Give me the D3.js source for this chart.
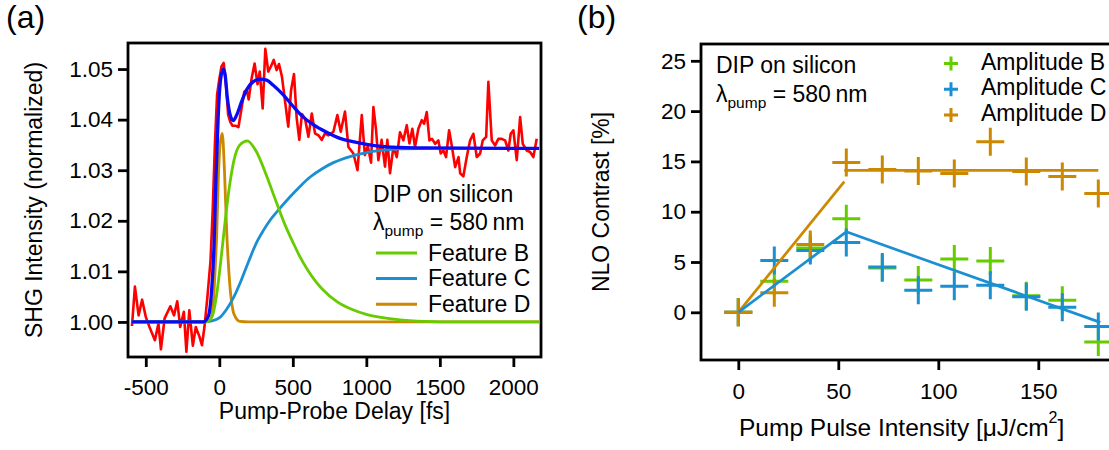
<!DOCTYPE html>
<html>
<head>
<meta charset="utf-8">
<script src="https://cdn.jsdelivr.net/npm/d3@7"></script>
<style>
body { margin: 0; background: #fff; }
svg text { font-family: "Liberation Sans", Arial, sans-serif; fill: #000; }
</style>
</head>
<body>
<div id="chart"></div>
<script>
// ---- panel (a): SHG transient, [delay fs, intensity]
const shgData = [
  [-594,0.9992],[-574,1.0070],[-549,1.0013],[-525,1.0044],[-500,1.0010],[-475,0.9990],[-438,0.9964],
  [-414,0.9997],[-397,0.9946],[-372,1.0007],[-333,1.0031],[-308,1.0013],[-286,1.0041],[-266,0.9990],
  [-241,1.0020],[-224,0.9941],[-204,1.0023],[-180,0.9953],[-160,0.9990],[-135,0.9971],[-118,0.9954],
  [-101,0.9990],[-81,1.0049],[-60,1.0120],[-45,1.0220],[-30,1.0350],[-15,1.0450],[0,1.0480],[15,1.0505],
  [30,1.0512],[45,1.0470],[60,1.0410],[75,1.0395],[90,1.0388],[110,1.0388],[130,1.0385],[150,1.0420],
  [170,1.0455],[186,1.0459],[200,1.0440],[220,1.0482],[240,1.0511],[260,1.0470],[275,1.0495],[295,1.0422],
  [313,1.0540],[333,1.0495],[351,1.0505],[370,1.0518],[390,1.0498],[406,1.0510],[426,1.0485],[449,1.0432],
  [469,1.0386],[488,1.0458],[508,1.0490],[526,1.0404],[544,1.0360],[562,1.0411],[583,1.0402],[606,1.0366],
  [629,1.0412],[651,1.0373],[674,1.0369],[697,1.0360],[719,1.0373],[742,1.0369],[776,1.0376],[803,1.0409],
  [826,1.0376],[855,1.0416],[878,1.0346],[912,1.0333],[940,1.0300],[969,1.0409],[990,1.0330],[1010,1.0348],
  [1032,1.0315],[1048,1.0425],[1066,1.0380],[1082,1.0320],[1104,1.0360],[1127,1.0307],[1143,1.0360],
  [1161,1.0294],[1184,1.0346],[1207,1.0326],[1229,1.0375],[1252,1.0359],[1275,1.0389],[1293,1.0353],
  [1313,1.0382],[1331,1.0346],[1354,1.0382],[1377,1.0399],[1393,1.0392],[1411,1.0415],[1429,1.0359],
  [1447,1.0362],[1468,1.0352],[1490,1.0359],[1506,1.0333],[1524,1.0339],[1542,1.0326],[1563,1.0379],
  [1581,1.0349],[1604,1.0306],[1627,1.0326],[1638,1.0294],[1660,1.0288],[1683,1.0326],[1706,1.0359],
  [1728,1.0372],[1751,1.0326],[1774,1.0333],[1792,1.0359],[1815,1.0366],[1830,1.0475],[1853,1.0359],
  [1876,1.0349],[1898,1.0362],[1921,1.0362],[1944,1.0359],[1966,1.0339],[1982,1.0372],[2000,1.0379],
  [2023,1.0320],[2046,1.0405],[2064,1.0352],[2091,1.0339],[2114,1.0336],[2136,1.0326],[2159,1.0362]
];
const fitTotal = [
  [-594,1.0],[-109,1.0],[-75,1.0011],[-52,1.0064],[-36,1.0150],[-23,1.0280],[-7,1.0410],[9,1.0480],
  [27,1.0500],[39,1.0490],[54,1.0445],[77,1.0406],[95,1.0398],[118,1.0409],[152,1.0436],[186,1.0459],
  [231,1.0475],[277,1.0480],[322,1.0478],[367,1.0468],[435,1.0449],[503,1.0426],[571,1.0405],[639,1.0390],
  [730,1.0375],[821,1.0363],[900,1.0357],[1003,1.0351],[1100,1.0347],[1230,1.0345],[1400,1.0344],[2175,1.0343]
];
const featB = [
  [-594,1.0],[-90,1.0],[-50,1.001],[-20,1.005],[10,1.012],[40,1.020],[70,1.027],[100,1.032],[140,1.035],
  [190,1.0358],[250,1.0338],[320,1.029],[390,1.0235],[450,1.019],[500,1.0158],[550,1.0128],[600,1.0103],
  [650,1.0082],[700,1.0065],[800,1.0040],[900,1.0025],[1000,1.0015],[1100,1.0009],[1200,1.0005],
  [1400,1.0001],[1600,1.0],[2175,1.0]
];
const featC = [
  [-594,1.0],[-110,1.0],[-50,1.0002],[0,1.0008],[50,1.0025],[100,1.005],[150,1.0083],[200,1.012],
  [250,1.0155],[300,1.0181],[350,1.0203],[413,1.0225],[480,1.0247],[549,1.0268],[620,1.0287],[700,1.0303],
  [776,1.0315],[889,1.0327],[1003,1.0335],[1100,1.0339],[1230,1.0342],[1500,1.0343],[2175,1.0343]
];
const featD = [
  [-594,1.0],[-100,1.0],[-63,1.0003],[-41,1.0037],[-29,1.010],[-18,1.017],[-7,1.028],[5,1.035],[20,1.0373],
  [35,1.030],[50,1.018],[65,1.010],[79,1.005],[95,1.002],[107,1.0011],[140,1.0001],[200,1.0],[2175,1.0]
];
const xTicksA = [-500, 0, 500, 1000, 1500, 2000];
const yTicksA = [1.00, 1.01, 1.02, 1.03, 1.04, 1.05];
const featLabels = ["Feature B", "Feature C", "Feature D"];

// ---- panel (b): contrast vs pump intensity
const pumpInt = [0, 18, 36, 54, 72, 90, 108, 126, 144, 162, 180];
const ampB = [0, 3.1, 6.4, 9.3, 4.4, 3.2, 5.3, 5.1, 1.65, 1.2, -2.95];
const ampC = [0, 5.15, 6.15, 6.95, 4.5, 2.2, 2.6, 2.7, 1.55, 0.5, -1.4];
const ampD = [0, 1.95, 6.75, 14.9, 14.2, 14.05, 13.8, 16.95, 14.0, 13.5, 11.8];
const fitLineC = [[0, 0], [54, 8.0], [181, -1.0]];
const fitLineD1 = [[0, 0], [53, 13.0]];
const fitLineD2 = [[53, 14.1], [180, 14.1]];
const xTicksB = [0, 50, 100, 150];
const yTicksB = [0, 5, 10, 15, 20, 25];
const ampLabels = ["Amplitude B", "Amplitude C", "Amplitude D"];

const colB = "#66cc00", colC = "#1a8fd1", colD = "#cc8800";
const colData = "#ff0000", colFit = "#0a0af5";

const svg = d3.select("#chart").append("svg")
  .attr("width", 1109).attr("height", 450);

function frameAxes(g, x, y, xt, yt, fmtY, padX) {
  g.append("g").attr("transform", `translate(0,${y.range()[0]})`)
    .call(d3.axisBottom(x).tickValues(xt).tickSize(10).tickPadding(padX).tickFormat(d => String(d)))
    .call(a => a.select(".domain").remove())
    .call(a => a.selectAll("line").attr("stroke-width", 2.8))
    .call(a => a.selectAll("text").attr("font-size", 22.5).attr("font-family", null));
  g.append("g").attr("transform", `translate(${x.range()[0]},0)`)
    .call(d3.axisLeft(y).tickValues(yt).tickSize(10).tickPadding(5).tickFormat(fmtY))
    .call(a => a.select(".domain").remove())
    .call(a => a.selectAll("line").attr("stroke-width", 2.8))
    .call(a => a.selectAll("text").attr("font-size", 22.5).attr("font-family", null));
  g.append("rect")
    .attr("x", x.range()[0]).attr("y", y.range()[1])
    .attr("width", x.range()[1] - x.range()[0]).attr("height", y.range()[0] - y.range()[1])
    .attr("fill", "none").attr("stroke", "#000").attr("stroke-width", 2.8);
}

function lambdaText(g, x, yb) {
  const t = g.append("text").attr("x", x).attr("y", yb).attr("font-size", 23);
  t.append("tspan").text("\u03bb");
  t.append("tspan").attr("font-size", 15.5).attr("dy", 6).text("pump");
  t.append("tspan").attr("dy", -6).text(" = 580\u2009nm");
}

// ================= panel (a)
const gA = svg.append("g");
const xA = d3.scaleLinear().domain([-621, 2188]).range([128, 541]);
const yA = d3.scaleLinear().domain([0.99307, 1.05515]).range([357, 43]);
frameAxes(gA, xA, yA, xTicksA, yTicksA, d3.format(".2f"), 12);

const smooth = d3.line().x(d => xA(d[0])).y(d => yA(d[1])).curve(d3.curveMonotoneX);
const jag = d3.line().x(d => xA(d[0])).y(d => yA(d[1]));

gA.append("path").attr("d", jag(shgData)).attr("fill", "none")
  .attr("stroke", colData).attr("stroke-width", 2.6).attr("stroke-linejoin", "round");
[[featD, colD], [featC, colC], [featB, colB]].forEach(([d, c]) => {
  gA.append("path").attr("d", smooth(d)).attr("fill", "none").attr("stroke", c).attr("stroke-width", 2.8);
});
gA.append("path").attr("d", smooth(fitTotal)).attr("fill", "none")
  .attr("stroke", colFit).attr("stroke-width", 3.3);

gA.append("text").attr("x", 373).attr("y", 202).attr("font-size", 23).text("DIP on silicon");
lambdaText(gA, 373, 230);
featLabels.forEach((t, i) => {
  const yy = 253 + i * 25.6;
  gA.append("line").attr("x1", 376).attr("x2", 417).attr("y1", yy).attr("y2", yy)
    .attr("stroke", [colB, colC, colD][i]).attr("stroke-width", 3);
  gA.append("text").attr("x", 428).attr("y", yy + 7.5).attr("font-size", 23).text(t);
});

gA.append("text").attr("transform", "translate(42,200) rotate(-90)")
  .attr("text-anchor", "middle").attr("font-size", 23).text("SHG Intensity (normalized)");
gA.append("text").attr("x", 334.5).attr("y", 419).attr("text-anchor", "middle")
  .attr("font-size", 23).text("Pump-Probe Delay [fs]");
gA.append("text").attr("x", 6).attr("y", 28).attr("font-size", 32).text("(a)");

// ================= panel (b)
const gB = svg.append("g");
const xB = d3.scaleLinear().domain([-18.65, 188.35]).range([701, 1115]);
const yB = d3.scaleLinear().domain([-4.74, 26.67]).range([360, 44]);
frameAxes(gB, xB, yB, xTicksB, yTicksB, d3.format("d"), 13);

function plus(px, py, h, v) {
  return `M${px - h},${py}H${px + h}M${px},${py - v}V${py + v}`;
}
[[ampB, colB], [ampC, colC], [ampD, colD]].forEach(([vals, c]) => {
  gB.append("g").selectAll("path").data(vals).join("path")
    .attr("d", (d, i) => plus(xB(pumpInt[i]), yB(d), 14, 14))
    .attr("stroke", c).attr("stroke-width", 3).attr("fill", "none");
});
const lineB = d3.line().x(d => xB(d[0])).y(d => yB(d[1]));
[[fitLineD1, colD], [fitLineD2, colD], [fitLineC, colC]].forEach(([d, c]) => {
  gB.append("path").attr("d", lineB(d)).attr("fill", "none").attr("stroke", c).attr("stroke-width", 2.7);
});

gB.append("text").attr("x", 716).attr("y", 73).attr("font-size", 23).text("DIP on silicon");
lambdaText(gB, 716, 101.5);
ampLabels.forEach((t, i) => {
  const yy = 63.5 + i * 25.7;
  gB.append("path").attr("d", plus(951, yy, 7, 7))
    .attr("stroke", [colB, colC, colD][i]).attr("stroke-width", 3);
  gB.append("text").attr("x", 981).attr("y", yy + 6).attr("font-size", 23).text(t);
});

gB.append("text").attr("transform", "translate(609,202) rotate(-90)")
  .attr("text-anchor", "middle").attr("font-size", 23).text("NLO Contrast [%]");
const xt = gB.append("text").attr("x", 739).attr("y", 436).attr("font-size", 24.5);
xt.append("tspan").text("Pump Pulse Intensity [\u03bcJ/cm");
xt.append("tspan").attr("font-size", 16).attr("dy", -13).text("2");
xt.append("tspan").attr("dy", 13).text("]");
gB.append("text").attr("x", 577).attr("y", 28).attr("font-size", 32).text("(b)");
</script>
</body>
</html>
